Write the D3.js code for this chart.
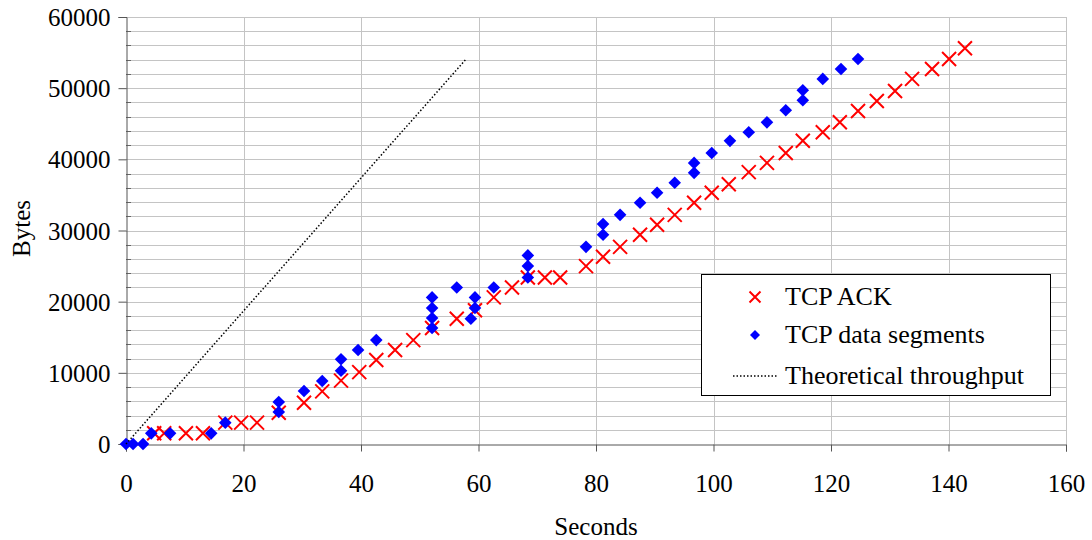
<!DOCTYPE html>
<html>
  <head>
    <title>TCP ACK vs data segments</title>
    <script src="https://d3js.org/d3.v7.min.js"></script>
    <style>
      body, html {
        margin: 0;
        padding: 0;
        background: #fff;
        overflow: hidden;
      }
      svg text {
        font-family: 'Liberation Serif', 'Times New Roman', serif;
        fill: #000;
      }
      .grid line {
        stroke: #c4c4c4;
        stroke-width: 1;
      }
    </style>
  </head>
  <body>
    <svg id="chart" width="1092" height="540"></svg>
    <script>
      // TCP ACK points: [seconds, bytes]
      const ackPoints = [
        [4.8, 1500], [6.5, 1500], [10.2, 1500], [13.1, 1500],
        [16.9, 3000], [19.6, 3000], [22.3, 3000],
        [26.0, 4400], [30.3, 5800], [33.4, 7400], [36.6, 8900],
        [39.7, 10100], [42.6, 11800], [45.8, 13200], [48.9, 14600],
        [52.1, 16300], [56.3, 17600], [59.4, 18800], [62.6, 20600],
        [65.7, 22000], [68.4, 23400], [71.3, 23400], [73.9, 23400],
        [78.3, 25000], [81.2, 26300], [84.1, 27700], [87.5, 29400],
        [90.4, 30800], [93.4, 32200], [96.7, 33900], [99.7, 35300],
        [102.6, 36500], [106.0, 38200], [109.1, 39500], [112.3, 40900],
        [115.2, 42600], [118.6, 43800], [121.5, 45200], [124.6, 46800],
        [127.8, 48200], [130.9, 49600], [133.8, 51300], [137.2, 52700],
        [140.1, 54100], [142.8, 55600]
      ];

      // TCP data segment points: [seconds, bytes]
      const dataPoints = [
        [0, 0], [1.2, 0], [2.9, 0],
        [4.3, 1500], [7.5, 1500], [14.5, 1500],
        [16.9, 3000], [26.0, 4500], [26.0, 5900],
        [30.3, 7450], [33.4, 8850], [36.6, 10300], [36.6, 11900],
        [39.5, 13200], [42.6, 14600],
        [52.1, 16300], [52.1, 17700], [52.1, 19100], [52.1, 20600],
        [56.3, 22000], [58.7, 17600], [59.4, 19100], [59.4, 20600],
        [62.6, 22000], [68.4, 23400], [68.4, 25000], [68.4, 26500],
        [78.3, 27700], [81.2, 29400], [81.2, 30900], [84.1, 32200],
        [87.5, 33900], [90.4, 35300], [93.4, 36700], [96.7, 38100],
        [96.7, 39500], [99.7, 40900], [102.8, 42600], [106.0, 43800],
        [109.1, 45200], [112.3, 46900], [115.2, 48300], [115.2, 49700],
        [118.6, 51300], [121.7, 52700], [124.6, 54100]
      ];

      // theoretical throughput line endpoints
      const theoryLine = [[0, 0], [57.9, 54100]];

      const xTicks = [0, 20, 40, 60, 80, 100, 120, 140, 160];
      const yTicks = [0, 10000, 20000, 30000, 40000, 50000, 60000];
      const yGridStep = 2000;

      const legendItems = ["TCP ACK", "TCP data segments", "Theoretical throughput"];

      const svg = d3.select("#chart");
      const plotLeft = 126, plotRight = 1066, plotTop = 17, plotBottom = 444;
      const fontSize = "25px";

      const x = d3.scaleLinear().domain([0, 160]).range([plotLeft, plotRight]);
      const y = d3.scaleLinear().domain([0, 60000]).range([plotBottom, plotTop]);

      // gridlines
      const grid = svg.append("g").attr("class", "grid");
      grid.selectAll("line.h")
        .data(d3.range(yGridStep, 60000 + 1, yGridStep))
        .enter().append("line")
        .attr("x1", plotLeft).attr("x2", plotRight)
        .attr("y1", d => Math.round(y(d)) + 0.5)
        .attr("y2", d => Math.round(y(d)) + 0.5);
      grid.selectAll("line.v")
        .data(xTicks.slice(1))
        .enter().append("line")
        .attr("y1", plotTop).attr("y2", plotBottom)
        .attr("x1", d => Math.round(x(d)) + 0.5)
        .attr("x2", d => Math.round(x(d)) + 0.5);

      // minor y ticks on the inside
      svg.append("g").selectAll("line")
        .data(d3.range(yGridStep, 60000, yGridStep).filter(d => d % 10000 !== 0))
        .enter().append("line")
        .attr("x1", plotLeft).attr("x2", plotLeft + 5)
        .attr("y1", d => Math.round(y(d)) + 0.5)
        .attr("y2", d => Math.round(y(d)) + 0.5)
        .attr("stroke", "#666");

      // axes
      const xAxis = svg.append("g")
        .attr("transform", `translate(0,${plotBottom + 0.5})`)
        .call(d3.axisBottom(x).tickValues(xTicks).tickSize(7).tickPadding(23).tickFormat(d3.format("d")));
      const yAxis = svg.append("g")
        .attr("transform", `translate(${plotLeft + 0.5},0)`)
        .call(d3.axisLeft(y).tickValues(yTicks).tickSize(8).tickPadding(8).tickFormat(d3.format("d")));

      [xAxis, yAxis].forEach(a => {
        a.select(".domain").attr("stroke", "#555");
        a.selectAll(".tick line").attr("stroke", "#555");
        a.selectAll("text")
          .style("font-family", "'Liberation Serif', serif")
          .style("font-size", fontSize)
          .attr("fill", "#000");
      });
      yAxis.selectAll("text").attr("dy", "0.34em");

      // axis titles
      svg.append("text")
        .attr("x", (plotLeft + plotRight) / 2)
        .attr("y", 535)
        .attr("text-anchor", "middle")
        .style("font-size", fontSize)
        .text("Seconds");
      svg.append("text")
        .attr("transform", `translate(30,${(plotTop + plotBottom) / 2 - 2}) rotate(-90)`)
        .attr("text-anchor", "middle")
        .style("font-size", fontSize)
        .text("Bytes");

      // markers
      function crossPath(cx, cy, r) {
        return `M${cx - r},${cy - r}L${cx + r},${cy + r}M${cx - r},${cy + r}L${cx + r},${cy - r}`;
      }
      function diamondPath(cx, cy, r) {
        return `M${cx},${cy - r}L${cx + r},${cy}L${cx},${cy + r}L${cx - r},${cy}Z`;
      }

      svg.append("g").selectAll("path")
        .data(ackPoints)
        .enter().append("path")
        .attr("d", d => crossPath(x(d[0]), y(d[1]), 7))
        .attr("stroke", "#ff0000")
        .attr("stroke-width", 2)
        .attr("fill", "none");

      svg.append("g").selectAll("path")
        .data(dataPoints)
        .enter().append("path")
        .attr("d", d => diamondPath(x(d[0]), y(d[1]), 6.3))
        .attr("fill", "#0000ff");

      svg.append("path")
        .datum(theoryLine)
        .attr("d", d3.line().x(d => x(d[0])).y(d => y(d[1])))
        .attr("stroke", "#000")
        .attr("stroke-width", 1.5)
        .attr("stroke-dasharray", "1.5,2")
        .attr("fill", "none");

      // legend
      const lg = svg.append("g");
      lg.append("rect")
        .attr("x", 701.5).attr("y", 274.5)
        .attr("width", 349).attr("height", 121)
        .attr("fill", "#fff")
        .attr("stroke", "#000")
        .attr("stroke-width", 1);
      const rowY = [297, 335, 376];
      lg.append("path")
        .attr("d", crossPath(755, rowY[0], 5.5))
        .attr("stroke", "#ff0000").attr("stroke-width", 2).attr("fill", "none");
      lg.append("path")
        .attr("d", diamondPath(755, rowY[1], 5))
        .attr("fill", "#0000ff");
      lg.append("line")
        .attr("x1", 733).attr("x2", 777)
        .attr("y1", rowY[2]).attr("y2", rowY[2])
        .attr("stroke", "#000").attr("stroke-width", 1.5)
        .attr("stroke-dasharray", "1.5,2");
      lg.selectAll("text.item")
        .data(legendItems)
        .enter().append("text")
        .attr("x", 785)
        .attr("y", (d, i) => rowY[i] + 8)
        .style("font-size", "26px")
        .text(d => d);
    </script>
  </body>
</html>
